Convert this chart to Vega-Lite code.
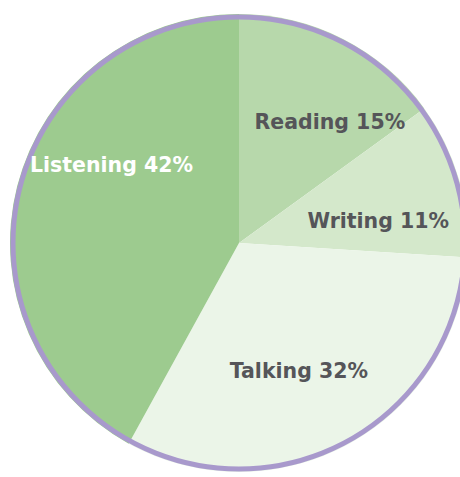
{
  "$schema": "https://vega.github.io/schema/vega-lite/v6.json",
  "width": 440,
  "height": 466,
  "autosize": "none",
  "padding": {"left": 19, "top": 10, "right": 1, "bottom": 1},
  "background": "white",
  "config": {"view": {"stroke": null}},
  "data": {
    "values": [
      {"idx": 1, "activity": "Reading", "pct": 15, "label": "Reading 15%"},
      {"idx": 2, "activity": "Writing", "pct": 11, "label": "Writing 11%"},
      {"idx": 3, "activity": "Talking", "pct": 32, "label": "Talking 32%"},
      {"idx": 4, "activity": "Listening", "pct": 42, "label": "Listening 42%"}
    ]
  },
  "layer": [
    {
      "mark": {"type": "arc", "radius": 229, "stroke": null},
      "encoding": {
        "theta": {"field": "pct", "type": "quantitative", "stack": true},
        "order": {"field": "idx", "type": "quantitative"},
        "color": {
          "field": "activity",
          "type": "nominal",
          "scale": {
            "domain": ["Reading", "Writing", "Talking", "Listening"],
            "range": ["#b7d8ab", "#d4e8cb", "#ebf5e8", "#9dcb8f"]
          },
          "legend": null
        }
      }
    },
    {
      "data": {"values": [{"ring": 1}]},
      "mark": {"type": "arc", "theta": 0, "theta2": 6.2832, "radius": 226, "filled": false, "stroke": "#a899cc", "strokeWidth": 5},
      "encoding": {}
    },
    {
      "mark": {"type": "text", "radius": 145, "dx": 25, "dy": 9, "font": "DejaVu Sans", "fontWeight": "bold", "fontSize": 20.5, "align": "center", "baseline": "middle", "fill": "#555559"},
      "encoding": {
        "theta": {"field": "pct", "type": "quantitative", "stack": true},
        "order": {"field": "idx", "type": "quantitative"},
        "text": {"condition": {"test": "datum.activity === 'Reading'", "field": "label"}, "value": ""}
      }
    },
    {
      "mark": {"type": "text", "radius": 145, "dx": 0, "dy": 19, "font": "DejaVu Sans", "fontWeight": "bold", "fontSize": 20.5, "align": "center", "baseline": "middle", "fill": "#555559"},
      "encoding": {
        "theta": {"field": "pct", "type": "quantitative", "stack": true},
        "order": {"field": "idx", "type": "quantitative"},
        "text": {"condition": {"test": "datum.activity === 'Writing'", "field": "label"}, "value": ""}
      }
    },
    {
      "mark": {"type": "text", "radius": 145, "dx": -10, "dy": 2, "font": "DejaVu Sans", "fontWeight": "bold", "fontSize": 20.5, "align": "center", "baseline": "middle", "fill": "#555559"},
      "encoding": {
        "theta": {"field": "pct", "type": "quantitative", "stack": true},
        "order": {"field": "idx", "type": "quantitative"},
        "text": {"condition": {"test": "datum.activity === 'Talking'", "field": "label"}, "value": ""}
      }
    },
    {
      "mark": {"type": "text", "radius": 145, "dx": 13, "dy": -41, "font": "DejaVu Sans", "fontWeight": "bold", "fontSize": 20.5, "align": "center", "baseline": "middle", "fill": "white"},
      "encoding": {
        "theta": {"field": "pct", "type": "quantitative", "stack": true},
        "order": {"field": "idx", "type": "quantitative"},
        "text": {"condition": {"test": "datum.activity === 'Listening'", "field": "label"}, "value": ""}
      }
    }
  ]
}
